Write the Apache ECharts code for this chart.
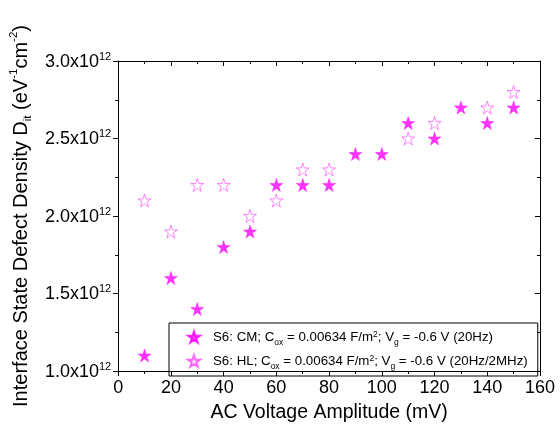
<!DOCTYPE html>
<html>
<head>
<meta charset="utf-8">
<script src="https://cdn.jsdelivr.net/npm/echarts@6/dist/echarts.min.js"></script>
<style>html,body{margin:0;padding:0;background:#fff}#c{width:560px;height:438px}</style>
</head>
<body>
<div id="c"></div>
<script>
// Data (Dit in units of 1e12 eV^-1 cm^-2)
var cmX = [10, 20, 30, 40, 50, 60, 70, 80, 90, 100, 110, 120, 130, 140, 150];
var cmY = [1.1, 1.6, 1.4, 1.8, 1.9, 2.2, 2.2, 2.2, 2.4, 2.4, 2.6, 2.5, 2.7, 2.6, 2.7];
var hlX = [10, 20, 30, 40, 50, 60, 70, 80, 110, 120, 140, 150];
var hlY = [2.1, 1.9, 2.2, 2.2, 2.0, 2.1, 2.3, 2.3, 2.5, 2.6, 2.7, 2.8];
var xTicks = [0, 20, 40, 60, 80, 100, 120, 140, 160];
var yTicks = ['1.0', '1.5', '2.0', '2.5', '3.0'];

var STAR = 'path://M50 0 L61.23 34.55 L97.55 34.55 L68.16 55.9 L79.39 90.45 L50 69.1 L20.61 90.45 L31.84 55.9 L2.45 34.55 L38.77 34.55 Z';
var FONT = '"Liberation Sans", Arial, sans-serif';

function pairs(xs, ys) { return xs.map(function (x, i) { return [x, ys[i]]; }); }

var chart = echarts.init(document.getElementById('c'), null, {renderer: 'canvas'});
var axisLine = {show: true, onZero: false, lineStyle: {color: '#000', width: 1}};
var option = {
  backgroundColor: '#fff',
  animation: false,
  grid: {left: 118, right: 20, top: 61, bottom: 67, containLabel: false},
  xAxis: [{
    type: 'value', min: 0, max: 160, interval: 20, position: 'bottom',
    name: 'AC Voltage Amplitude (mV)', nameLocation: 'middle', nameGap: 32,
    nameTextStyle: {fontFamily: FONT, fontSize: 19.5, color: '#000'},
    axisLine: axisLine,
    axisTick: {show: true, inside: false, length: 5, lineStyle: {color: '#000'}},
    minorTick: {show: true, splitNumber: 2, length: 3, lineStyle: {color: '#000'}},
    axisLabel: {fontFamily: FONT, fontSize: 18, color: '#000', margin: 8,
      formatter: function (v) { return xTicks.indexOf(v) >= 0 ? String(v) : ''; }},
    splitLine: {show: false}
  }, {
    type: 'value', min: 0, max: 160, interval: 20, position: 'top',
    axisLine: axisLine,
    axisTick: {show: true, inside: true, length: 5, lineStyle: {color: '#000'}},
    minorTick: {show: true, splitNumber: 2, length: 3, lineStyle: {color: '#000'}},
    axisLabel: {show: false}, splitLine: {show: false}
  }],
  yAxis: [{
    type: 'value', min: 1.0, max: 3.0, interval: 0.5, position: 'left',
    name: '{n|Interface State Defect Density D}{sub|it}{n| (eV}{sup|-1}{n|cm}{sup|-2}{n|)}',
    nameLocation: 'middle', nameGap: 86, nameRotate: 90,
    nameTextStyle: {fontFamily: FONT, fontSize: 20, color: '#000',
      rich: {
        n: {fontFamily: FONT, fontSize: 20, color: '#000', lineHeight: 23, verticalAlign: 'bottom'},
        sub: {fontFamily: FONT, fontSize: 11.5, color: '#000', lineHeight: 23, verticalAlign: 'bottom', padding: [0, 0, -3, 0]},
        sup: {fontFamily: FONT, fontSize: 11.5, color: '#000', lineHeight: 23, verticalAlign: 'top'}
      }},
    axisLine: axisLine,
    axisTick: {show: true, inside: false, length: 5, lineStyle: {color: '#000'}},
    minorTick: {show: true, splitNumber: 2, length: 3, lineStyle: {color: '#000'}},
    axisLabel: {margin: 7, color: '#000',
      formatter: function (v) {
        var s = v.toFixed(1);
        return yTicks.indexOf(s) >= 0 ? '{n|' + s + 'x10}{sup|12}' : '';
      },
      rich: {
        n: {fontFamily: FONT, fontSize: 18, color: '#000', lineHeight: 20, verticalAlign: 'bottom'},
        sup: {fontFamily: FONT, fontSize: 11, color: '#000', lineHeight: 20, verticalAlign: 'top', padding: [0, 0, 6, 0]}
      }},
    splitLine: {show: false}
  }, {
    type: 'value', min: 1.0, max: 3.0, interval: 0.5, position: 'right',
    axisLine: axisLine,
    axisTick: {show: true, inside: true, length: 5, lineStyle: {color: '#000'}},
    minorTick: {show: true, splitNumber: 2, length: 3, lineStyle: {color: '#000'}},
    axisLabel: {show: false}, splitLine: {show: false}
  }],
  legend: {
    orient: 'vertical', left: 169, top: 323,
    borderColor: '#000', borderWidth: 1, borderRadius: 0,
    padding: [5, 10, 5, 18], itemGap: 5,
    itemWidth: 12, itemHeight: 12,
    data: ['CM', 'HL'],
    formatter: function (name) {
      if (name === 'CM') return '{t|S6: CM; C}{sub|ox}{t| = 0.00634 F/m}{sup|2}{t|; V}{sub|g}{t| = -0.6 V (20Hz)}';
      return '{t|S6: HL; C}{sub|ox}{t| = 0.00634 F/m}{sup|2}{t|; V}{sub|g}{t| = -0.6 V (20Hz/2MHz)}';
    },
    textStyle: {
      fontFamily: FONT, fontSize: 13.3, color: '#000', padding: [0, 0, 0, 8],
      rich: {
        t: {fontFamily: FONT, fontSize: 13.3, color: '#000', lineHeight: 18, verticalAlign: 'middle'},
        sub: {fontFamily: FONT, fontSize: 8.5, color: '#000', lineHeight: 18, verticalAlign: 'bottom', padding: [0, 0, -1, 0]},
        sup: {fontFamily: FONT, fontSize: 8.5, color: '#000', lineHeight: 18, verticalAlign: 'top', padding: [2, 0, 0, 0]}
      }
    }
  },
  series: [{
    name: 'CM', type: 'scatter', xAxisIndex: 0, yAxisIndex: 0,
    symbol: STAR, symbolSize: 13,
    itemStyle: {color: '#ff00ff', borderColor: '#ff00ff', borderWidth: 0.5},
    data: pairs(cmX, cmY), z: 3
  }, {
    name: 'HL', type: 'scatter', xAxisIndex: 0, yAxisIndex: 0,
    symbol: STAR, symbolSize: 13,
    itemStyle: {color: '#ffffff', borderColor: '#ff40ff', borderWidth: 0.8},
    data: pairs(hlX, hlY), z: 2
  }]
};
chart.setOption(option);
</script>
</body>
</html>
